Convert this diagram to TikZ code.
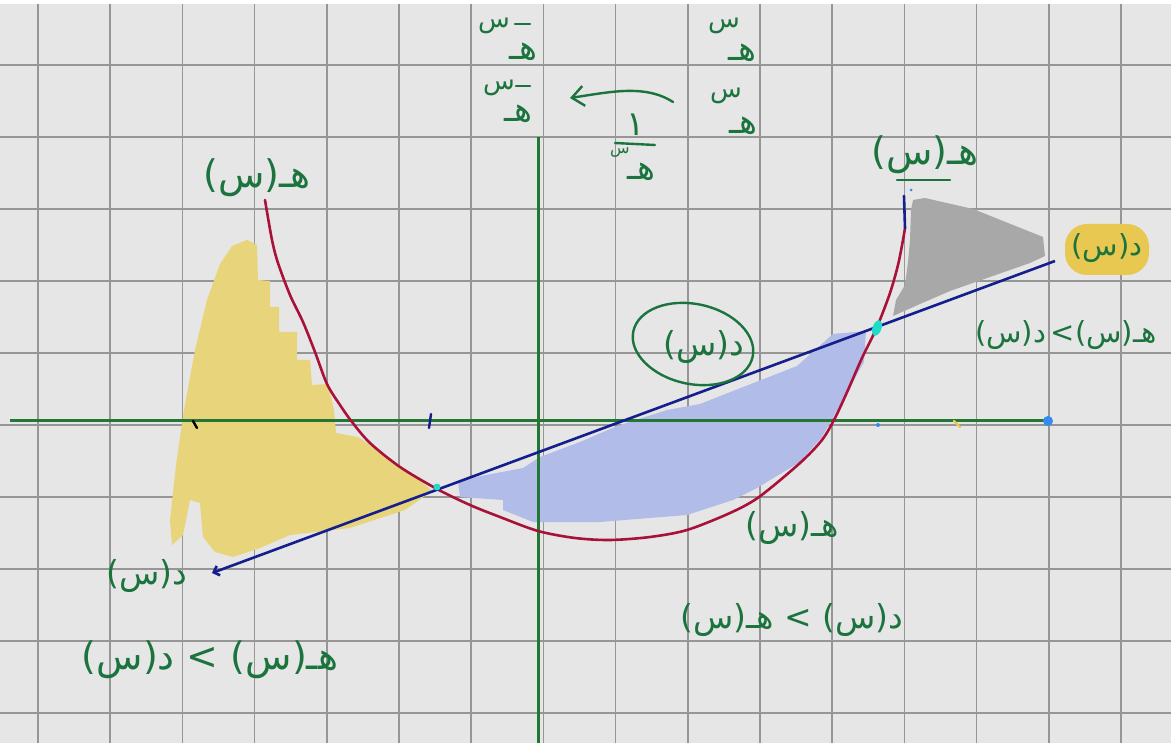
\documentclass[tikz,border=0pt]{standalone}
\usepackage{fontspec}
\newfontfamily\arabicfont[Script=Arabic]{DejaVu Sans}
\TeXXeTstate=1
\usetikzlibrary{arrows.meta}
\definecolor{gridbg}{RGB}{230,230,230}
\definecolor{gridln}{RGB}{150,150,150}
\definecolor{inkgreen}{RGB}{27,115,62}
\definecolor{axisgreen}{RGB}{36,118,52}
\definecolor{curvered}{RGB}{168,18,58}
\definecolor{linenavy}{RGB}{20,30,140}
\definecolor{fillyellow}{RGB}{232,212,122}
\definecolor{fillblue}{RGB}{178,188,232}
\definecolor{fillgrey}{RGB}{168,168,168}
\definecolor{hiyellow}{RGB}{232,200,80}
\definecolor{markcyan}{RGB}{30,220,200}
\definecolor{dotblue}{RGB}{50,140,240}
\newcommand{\artxt}[1]{{\arabicfont\beginR #1\endR}}
\newcommand{\ltsign}{{\arabicfont >}}
\tikzset{
  gridline/.style={gridln, line width=1.6pt},
  axisline/.style={axisgreen, line width=3pt},
  ink/.style={inkgreen, line width=2.4pt, line cap=round},
  arlbl/.style={text=inkgreen, font=\arabicfont\fontsize{38}{42}\selectfont, inner sep=0pt},
  armid/.style={text=inkgreen, font=\arabicfont\fontsize{33}{38}\selectfont, inner sep=0pt},
  arsmall/.style={text=inkgreen, font=\arabicfont\fontsize{29}{34}\selectfont, inner sep=0pt},
  arbig/.style={text=inkgreen, font=\arabicfont\fontsize{34}{38}\selectfont, inner sep=0pt},
  arsup/.style={text=inkgreen, font=\arabicfont\fontsize{26}{30}\selectfont, inner sep=0pt},
}
\begin{document}
\begin{tikzpicture}[x=1pt,y=-1pt]
\useasboundingbox (0,0) rectangle (1171,743);
\fill[white] (0,0) rectangle (1171,743);
\fill[gridbg] (0,4) rectangle (1171,743);
% grid
\foreach \i in {0,...,15} \draw[gridline] ({38+72.2*\i},4) -- ({38+72.2*\i},743);
\foreach \j in {0,...,9} \draw[gridline] (0,{65+72*\j}) -- (1171,{65+72*\j});

% fills
\fill[fillyellow] (247,240) -- (257,245) -- (258,280) -- (270,281) -- (270,307) -- (279,307) -- (279,332) -- (297,332) -- (297,360) -- (310,360) -- (312,385) -- (328,384) -- (334,410) -- (336,433) -- (358,437) -- (380,452) -- (402,468) -- (423,483) -- (432,491) -- (405,510) -- (350,528) -- (290,535) -- (260,548) -- (233,557) -- (215,552) -- (203,537) -- (200,503) -- (190,500) -- (183,535) -- (172,545) -- (170,520) -- (176,465) -- (184,410) -- (195,350) -- (207,300) -- (220,264) -- (232,246) -- cycle;
\fill[fillblue] (458,482) -- (470,478) -- (523,468) -- (540,457) -- (580,442) -- (617,426) -- (667,410) -- (700,404) -- (733,391) -- (797,366) -- (833,334) -- (866,331) -- (864,362) -- (845,396) -- (822,437) -- (800,462) -- (757,488) -- (733,500) -- (687,515) -- (600,522) -- (533,522) -- (503,510) -- (503,500) -- (460,497) -- cycle;
\fill[fillgrey] (913,200) -- (925,198) -- (973,209) -- (1043,237) -- (1045,256) -- (1030,263) -- (990,277) -- (950,291) -- (920,304) -- (893,316) -- (896,300) -- (905,285) -- (908,262) -- (910,240) -- (911,210) -- cycle;

% axes
\coordinate (xa0) at (10,421); \coordinate (xa1) at (1048,421);
\coordinate (ya0) at (538,137); \coordinate (ya1) at (538,743);
\draw[axisline] (xa0) -- (xa1);
\draw[axisline] (ya0) -- (ya1);

% h(x) curve
\draw[curvered, line width=2.6pt, line cap=round] plot[smooth, tension=0.5] coordinates {(265,200) (272,240) (278,263) (290,295) (303,322) (315,352) (327,384) (340,405) (352,422) (370,443) (400,467) (437,489) (470,505) (500,517) (538,531) (575,538) (610,540) (650,537) (687,530) (730,513) (759,497) (800,463) (822,440) (835,418) (848,390) (862,358) (877,327) (890,293) (898,265) (903,240) (905,228)};
\coordinate (hT0) at (905,228); \coordinate (hT1) at (904,196);
\draw[linenavy, line width=2.6pt, line cap=round] (hT0) -- (hT1);

% d(x) line
\coordinate (dL) at (212,573); \coordinate (dR) at (1055,261);
\draw[linenavy, line width=2.6pt, {Straight Barb[length=5pt,width=10pt]}-] (dL) -- (dR);

% marks
\fill[markcyan, rotate around={70:(877,328)}] (877,328) ellipse (8 and 4.5);
\fill[markcyan] (437,487) circle (3.5);
\draw[black, line width=2.4pt, line cap=round] (193,421) -- (197,428);
\draw[linenavy, line width=2.4pt, line cap=round] (431,414) -- (429,428);
\fill[dotblue] (1048,421) circle (5);
\fill[dotblue] (878,425) circle (2);
\fill[dotblue] (911,190) circle (1.5);
\draw[hiyellow, line width=2.4pt, line cap=round] (954,421) -- (960,427);

% highlight and ellipse
\fill[hiyellow, rounded corners=22pt] (1065,224) rectangle (1149,275);
\draw[ink, rotate around={-12:(693,344)}] (693,344) ellipse (61 and 40);

% labels
\node[arlbl] (h1) at (257,178) {\artxt{هـ(س)}};
\node[arlbl] (h2) at (925,155) {\artxt{هـ(س)}};
\coordinate (u0) at (897,180); \coordinate (u1) at (950,180);
\draw[ink] (u0) -- (u1);
\node[arsmall] (dRl) at (1107,248) {\artxt{د(س)}};
\node[armid] (dLl) at (147,576) {\artxt{د(س)}};
\node[armid] (dC) at (704,347) {\artxt{د(س)}};
\node[armid] (hM) at (792,528) {\artxt{هـ(س)}};
\node[arlbl] (in1) at (210,660) {\artxt{د(س)}\ \ltsign\ \artxt{هـ(س)}};
\node[armid] (in2) at (792,620) {\artxt{هـ(س)}\ \ltsign\ \artxt{د(س)}};
\node[arsmall] (in3) at (1066,335) {\artxt{د(س)}\,\ltsign\artxt{هـ(س)}};

% top exponentials
\node[arsup] (s1) at (494,26) {\artxt{س}};
\draw[ink, line width=2.2pt] (515,24) -- (530,24);
\node[arbig] (e1) at (523,52) {\artxt{هـ}};
\node[arsup] (s2) at (499,88) {\artxt{س}};
\draw[ink, line width=2.2pt] (516,86) -- (530,86);
\node[arbig] (e2) at (518,114) {\artxt{هـ}};
\node[arsup] (s3) at (724,26) {\artxt{س}};
\node[arbig] (e3) at (742,53) {\artxt{هـ}};
\node[arsup] (s4) at (726,96) {\artxt{س}};
\node[arbig] (e4) at (743,126) {\artxt{هـ}};
% arrow
\coordinate (a0) at (673,102); \coordinate (a1) at (570,98);
\draw[ink, -{Straight Barb[length=12pt,width=20pt]}] (a0) .. controls (645,84) and (610,92) .. (a1);
% fraction 1 / e^x
\node[arbig] (one) at (636,125) {\artxt{١}};
\coordinate (f0) at (615,143); \coordinate (f1) at (655,145);
\draw[ink] (f0) -- (f1);
\node[arsup, font=\arabicfont\fontsize{16}{18}\selectfont] (s5) at (620,153) {\artxt{س}};
\node[arbig] (e5) at (641,172) {\artxt{هـ}};
\end{tikzpicture}
\end{document}
